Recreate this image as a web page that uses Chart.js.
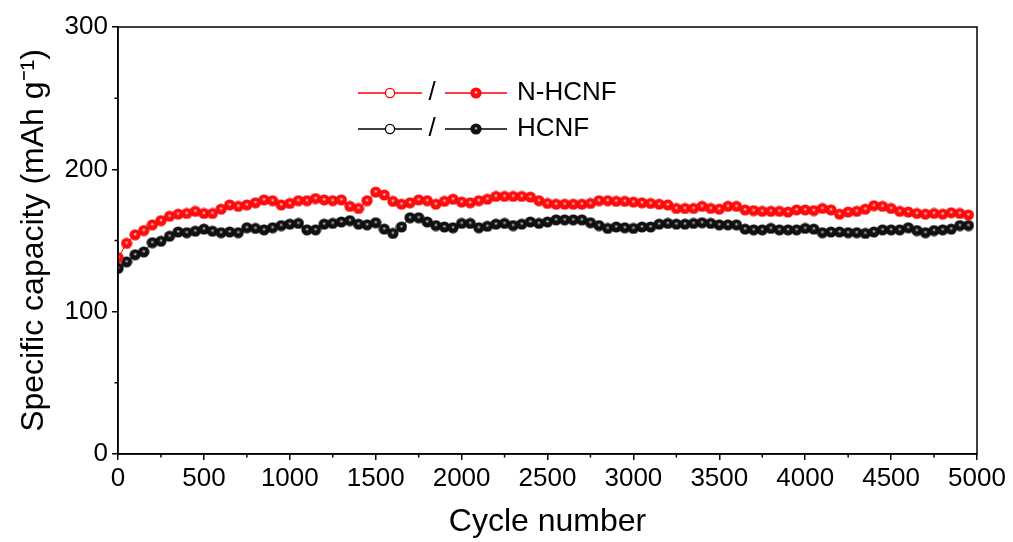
<!DOCTYPE html>
<html lang="en">
<head>
    <meta charset="UTF-8">
    <title>Cycling performance</title>
    <script src="https://cdn.jsdelivr.net/npm/chart.js"></script>
    <style>
        body { margin: 0; background: #fff; }
        #wrap { width: 1013px; height: 542px; }
    </style>
</head>
<body>
    <div id="wrap"><canvas id="cycleChart" width="1013" height="542"></canvas></div>

    <script>
        const cycles = [1, 50, 100, 150, 200, 250, 300, 350, 400, 450,
            500, 550, 600, 650, 700, 750, 800, 850, 900, 950,
            1000, 1050, 1100, 1150, 1200, 1250, 1300, 1350, 1400, 1450,
            1500, 1550, 1600, 1650, 1700, 1750, 1800, 1850, 1900, 1950,
            2000, 2050, 2100, 2150, 2200, 2250, 2300, 2350, 2400, 2450,
            2500, 2550, 2600, 2650, 2700, 2750, 2800, 2850, 2900, 2950,
            3000, 3050, 3100, 3150, 3200, 3250, 3300, 3350, 3400, 3450,
            3500, 3550, 3600, 3650, 3700, 3750, 3800, 3850, 3900, 3950,
            4000, 4050, 4100, 4150, 4200, 4250, 4300, 4350, 4400, 4450,
            4500, 4550, 4600, 4650, 4700, 4750, 4800, 4850, 4900, 4950];

        const nhcnf = [138, 148, 154, 157, 161, 164, 167, 168.5, 169, 170.5,
            169, 169, 172, 175, 174, 175, 176.5, 178.5, 178, 175,
            176, 178, 178, 179.5, 178.5, 178, 178.5, 174, 172.5, 178,
            184, 182, 177.5, 175.5, 176.5, 178.5, 178, 175.5, 177.5, 179,
            177, 176.5, 178, 179, 181, 181, 181, 181, 180.5, 178,
            176, 175.5, 175.5, 175.5, 175.5, 176, 178, 178, 177.5, 177.5,
            177, 176.5, 176, 175.5, 175, 172.5, 172.5, 172.5, 174, 172.5,
            172, 174, 174, 171.5, 171, 170.5, 170.5, 170.5, 170, 171.5,
            171.5, 171, 172.5, 171.5, 168.5, 170, 170.5, 172, 174.5, 174,
            172.5, 170.5, 170, 169, 168.5, 169, 168.5, 169.5, 169, 168];

        const hcnf = [130.5, 135, 140, 142, 148.5, 149.5, 153, 156, 155.5, 156.5,
            158, 156.5, 155.5, 156, 155.5, 159, 158.5, 157.5, 159, 160.5,
            161.5, 162, 157.5, 157.5, 161.5, 162, 163, 164, 161.5, 161,
            162.5, 158, 155, 159.5, 166, 166, 163, 160.5, 159.5, 159,
            162, 162, 159, 160, 161.5, 162, 160.5, 161.5, 163, 162,
            163, 164.5, 164.5, 164.5, 164.5, 162.5, 160.5, 158.5, 159.5, 159,
            158.5, 159.5, 159.5, 161.5, 162, 161.5, 161.5, 162, 162.5, 162,
            161, 161, 161, 158, 157.5, 157.5, 158.5, 157.5, 157.5, 157.5,
            158.5, 158, 155.5, 156, 156, 155.5, 155.5, 155, 156, 157.5,
            157.5, 157.5, 159, 157, 155.5, 157, 157.5, 158, 160.5, 160.5];

        const seriesNames = ['N-HCNF', 'HCNF'];
        const seriesColors = ['#ff0000', '#000000'];

        // shaded "ball" markers like the original plot
        function makeBall(base, dark, hi) {
            const c = document.createElement('canvas');
            c.width = 12; c.height = 12;
            const g = c.getContext('2d');
            const grad = g.createRadialGradient(6, 5.2, 0, 6, 6, 6);
            grad.addColorStop(0, '#ffffff');
            grad.addColorStop(0.12, hi);
            grad.addColorStop(0.32, base);
            grad.addColorStop(0.8, base);
            grad.addColorStop(1, dark);
            g.fillStyle = grad;
            g.beginPath();
            g.arc(6, 6, 5.6, 0, Math.PI * 2);
            g.fill();
            return c;
        }
        const redBall = makeBall('#ff0c0c', '#d40000', '#ffa0a0');
        const blackBall = makeBall('#111111', '#000000', '#909090');
        const balls = [redBall, blackBall];

        function toPoints(ys) {
            return ys.map((y, i) => ({ x: cycles[i], y: y }));
        }

        // minor ticks, top/right frame and the "open / filled" legend
        const framePlugin = {
            id: 'frame',
            afterDraw(chart) {
                const ctx = chart.ctx;
                const a = chart.chartArea;
                const xs = chart.scales.x, ys = chart.scales.y;
                ctx.save();
                ctx.strokeStyle = '#000';
                ctx.lineWidth = 1.5;
                ctx.strokeRect(a.left, a.top, a.right - a.left, a.bottom - a.top);
                ctx.beginPath();
                for (let v = 250; v < 5000; v += 500) {
                    const px = xs.getPixelForValue(v);
                    ctx.moveTo(px, a.bottom);
                    ctx.lineTo(px, a.bottom + 3.5);
                }
                for (let v = 50; v < 300; v += 100) {
                    const py = ys.getPixelForValue(v);
                    ctx.moveTo(a.left, py);
                    ctx.lineTo(a.left - 3.5, py);
                }
                ctx.stroke();

                const rows = [93, 129];
                ctx.font = '26px Arial, "Liberation Sans", sans-serif';
                ctx.textBaseline = 'middle';
                rows.forEach((ry, k) => {
                    const col = seriesColors[k];
                    ctx.strokeStyle = col;
                    ctx.lineWidth = 1.3;
                    ctx.beginPath();
                    ctx.moveTo(358, ry); ctx.lineTo(422, ry);
                    ctx.moveTo(445, ry); ctx.lineTo(507, ry);
                    ctx.stroke();
                    ctx.fillStyle = '#fff';
                    ctx.beginPath();
                    ctx.arc(390, ry, 4.6, 0, Math.PI * 2);
                    ctx.fill();
                    ctx.stroke();
                    ctx.drawImage(balls[k], 470, ry - 6);
                    ctx.fillStyle = '#000';
                    ctx.textAlign = 'center';
                    ctx.fillText('/', 432, ry);
                    ctx.textAlign = 'left';
                    ctx.fillText(seriesNames[k], 517, ry);
                });
                ctx.restore();
            }
        };

        const tickFont = { family: 'Arial, "Liberation Sans", sans-serif', size: 26 };
        const titleFont = { family: 'Arial, "Liberation Sans", sans-serif', size: 32 };

        new Chart(document.getElementById('cycleChart').getContext('2d'), {
            type: 'line',
            data: {
                datasets: [
                    { label: seriesNames[0], data: toPoints(nhcnf), borderColor: seriesColors[0], borderWidth: 1,
                      pointStyle: redBall, pointRadius: 6, pointHoverRadius: 6, fill: false },
                    { label: seriesNames[1], data: toPoints(hcnf), borderColor: seriesColors[1], borderWidth: 1,
                      pointStyle: blackBall, pointRadius: 6, pointHoverRadius: 6, fill: false }
                ]
            },
            options: {
                responsive: false,
                animation: false,
                events: [],
                layout: { padding: { top: 27, right: 36, left: 0, bottom: 0 } },
                plugins: { legend: { display: false }, tooltip: { enabled: false } },
                scales: {
                    x: {
                        type: 'linear', min: 0, max: 5000,
                        ticks: { stepSize: 500, font: tickFont, color: '#000', padding: 3, maxRotation: 0, autoSkip: false,
                                 callback: v => String(v) },
                        grid: { drawOnChartArea: false, tickLength: 6, color: '#000', lineWidth: 1.5 },
                        border: { color: '#000', width: 1.5 },
                        title: { display: true, text: 'Cycle number', font: titleFont, color: '#000', padding: { top: 0, bottom: 1 } },
                        afterFit: s => { s.height = 88; }
                    },
                    y: {
                        min: 0, max: 300,
                        ticks: { stepSize: 100, font: tickFont, color: '#000', padding: 4, callback: v => String(v) },
                        grid: { drawOnChartArea: false, tickLength: 6, color: '#000', lineWidth: 1.5 },
                        border: { color: '#000', width: 1.5 },
                        title: { display: true, text: 'Specific capacity (mAh g⁻¹)', font: titleFont, color: '#000', padding: { top: 15, bottom: 0 } },
                        afterFit: s => { s.width = 118; }
                    }
                }
            },
            plugins: [framePlugin]
        });
    </script>
</body>
</html>
